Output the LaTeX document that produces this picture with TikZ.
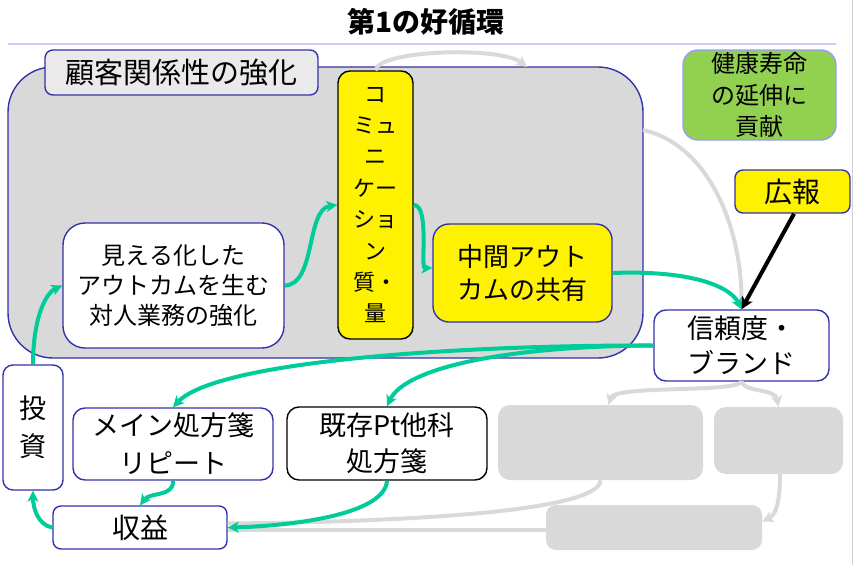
\documentclass[tikz,border=0pt]{standalone}
\usepackage{fontspec}
\setmainfont{Noto Sans CJK JP}
\usetikzlibrary{arrows.meta,calc}
\definecolor{bord}{HTML}{3333AA}
\definecolor{grn}{HTML}{00CC99}
\definecolor{lgray}{HTML}{D9D9D9}
\definecolor{lblgray}{HTML}{EAEAEA}
\definecolor{leaf}{HTML}{92D050}
\definecolor{lav}{HTML}{9999FF}
\definecolor{uline}{HTML}{CCCCFF}
\definecolor{edge}{HTML}{D0D0D0}
\begin{document}
\begin{tikzpicture}[x=1pt,y=-1pt,
  box/.style={draw=bord, line width=1.4pt, inner sep=0pt, align=center, fill=white},
  fs/.style 2 args={font=\fontsize{#1pt}{#2pt}\selectfont},
  ghost/.style={fill=lgray, draw=none, inner sep=0pt},
  greenarrow/.style={draw=grn, line width=4pt, -{Stealth[length=11pt,width=11pt,inset=3pt]}},
  grayarrow/.style={draw=lgray, line width=4pt, -{Stealth[length=11pt,width=11pt,inset=3pt]}},
  grayline/.style={draw=lgray, line width=4pt},
  blackarrow/.style={draw=black, line width=4pt, -{Stealth[length=12pt,width=12pt,inset=3pt]}}
]
\useasboundingbox (0,0) rectangle (854,565);
\draw[edge, line width=1pt] (852,0) -- (852,565);

% title
\node[font=\fontsize{28pt}{32pt}\selectfont\bfseries] (title) at (426,22) {第1の好循環};
\draw[uline, line width=1.5pt] (8,44) -- (836,44);

% container
\node[draw=bord, line width=1.4pt, fill=lgray, rounded corners=45pt, minimum width=635pt, minimum height=291pt, inner sep=0pt] (cont) at (325.5,212.5) {};
\node[box, fill=lblgray, rounded corners=8pt, minimum width=273pt, minimum height=45pt, fs={29}{34}] (lbl) at (181.5,72.5) {顧客関係性の強化};

% nodes
\node[box, draw=black, fill=yellow, rounded corners=12pt, minimum width=75pt, minimum height=268pt, fs={22}{31.4}] (comm) at (375.5,205) {コ\\ミュ\\ニ\\ケー\\ショ\\ン\\質・\\量};
\node[box, fill=yellow, rounded corners=16pt, minimum width=179pt, minimum height=98pt, fs={26}{33}] (chukan) at (522.5,273) {中間アウト\\カムの共有};
\node[box, rounded corners=22pt, minimum width=221pt, minimum height=125pt, fs={24}{30}] (mieru) at (173.5,285.5) {見える化した\\アウトカムを生む\\対人業務の強化};
\node[box, draw=lav, fill=leaf, rounded corners=15pt, minimum width=153pt, minimum height=90pt, fs={24}{31.5}] (kenko) at (759.5,95) {健康寿命\\の延伸に\\貢献};
\node[box, fill=yellow, rounded corners=8pt, minimum width=115pt, minimum height=43pt, fs={28}{34}] (koho) at (792.5,191.5) {広報};
\node[box, rounded corners=12pt, minimum width=175pt, minimum height=71pt, fs={27}{35}] (shinrai) at (741.5,345.5) {信頼度・\\ブランド};
\node[box, rounded corners=10pt, minimum width=60pt, minimum height=125pt, fs={27}{38}] (toshi) at (33,427.5) {投\\資};
\node[box, rounded corners=12pt, minimum width=200pt, minimum height=72pt, fs={27}{38}] (main) at (173,444) {メイン処方箋\\リピート};
\node[box, draw=black, rounded corners=12pt, minimum width=200pt, minimum height=73pt, fs={27}{36}] (kison) at (387,443.5) {既存Pt他科\\処方箋};
\node[box, rounded corners=8pt, minimum width=174pt, minimum height=43pt, fs={28}{34}] (shueki) at (140,527.5) {収益};

% ghost boxes
\node[ghost, rounded corners=12pt, minimum width=205pt, minimum height=75pt] (g1) at (600.5,442.5) {};
\node[ghost, rounded corners=12pt, minimum width=129pt, minimum height=67pt] (g2) at (778.5,440.5) {};
\node[ghost, rounded corners=10pt, minimum width=216pt, minimum height=45pt] (g3) at (654,527.5) {};

% helper coordinates
\coordinate (conttop) at (527,67);
\coordinate (contright) at (643,130);

% gray connectors
\draw[grayarrow] (comm.north) .. controls (378,50) and (500,46) .. (conttop);
\draw[grayarrow] (contright) .. controls (710,145) and (742,230) .. (shinrai.north);
\draw[grayarrow] (shinrai.south) .. controls (735,393) and (615,385) .. ($(g1.north)+(8,0)$);
\draw[grayarrow] (shinrai.south) .. controls (746,393) and (775,388) .. (g2.north);
\draw[grayarrow] ($(g2.south)+(1.5,0)$) .. controls (780,502) and (776,515) .. ($(g3.east)+(0,-6)$);
\draw[grayline] (g1.south) .. controls (600,512) and (400,522) .. ($(shueki.east)+(0,-4)$);
\draw[grayline] ($(g3.west)+(0,2)$) -- ($(shueki.east)+(0,2)$);

% green connectors
\draw[greenarrow] (toshi.north) .. controls (33,322) and (44,294) .. (mieru.west);
\draw[greenarrow] (mieru.east) .. controls (316,285) and (306,209) .. (comm.west);
\draw[greenarrow] (comm.east) .. controls (430,205) and (420,268) .. ($(chukan.west)+(0,-5)$);
\draw[greenarrow] (chukan.east) .. controls (690,270) and (730,286) .. (shinrai.north);
\draw[greenarrow] (shinrai.west) .. controls (450,345) and (215,362) .. (main.north);
\draw[greenarrow] (shinrai.west) .. controls (505,346) and (405,368) .. (kison.north);
\draw[greenarrow] (main.south) .. controls (174,497) and (150,492) .. (shueki.north);
\draw[greenarrow] (kison.south) .. controls (385,515) and (290,526) .. (shueki.east);
\draw[greenarrow] (shueki.west) .. controls (38,525) and (33,508) .. (toshi.south);

% black connector
\draw[blackarrow] ($(koho.south)+(1.5,0)$) -- (shinrai.north);
\end{tikzpicture}
\end{document}
